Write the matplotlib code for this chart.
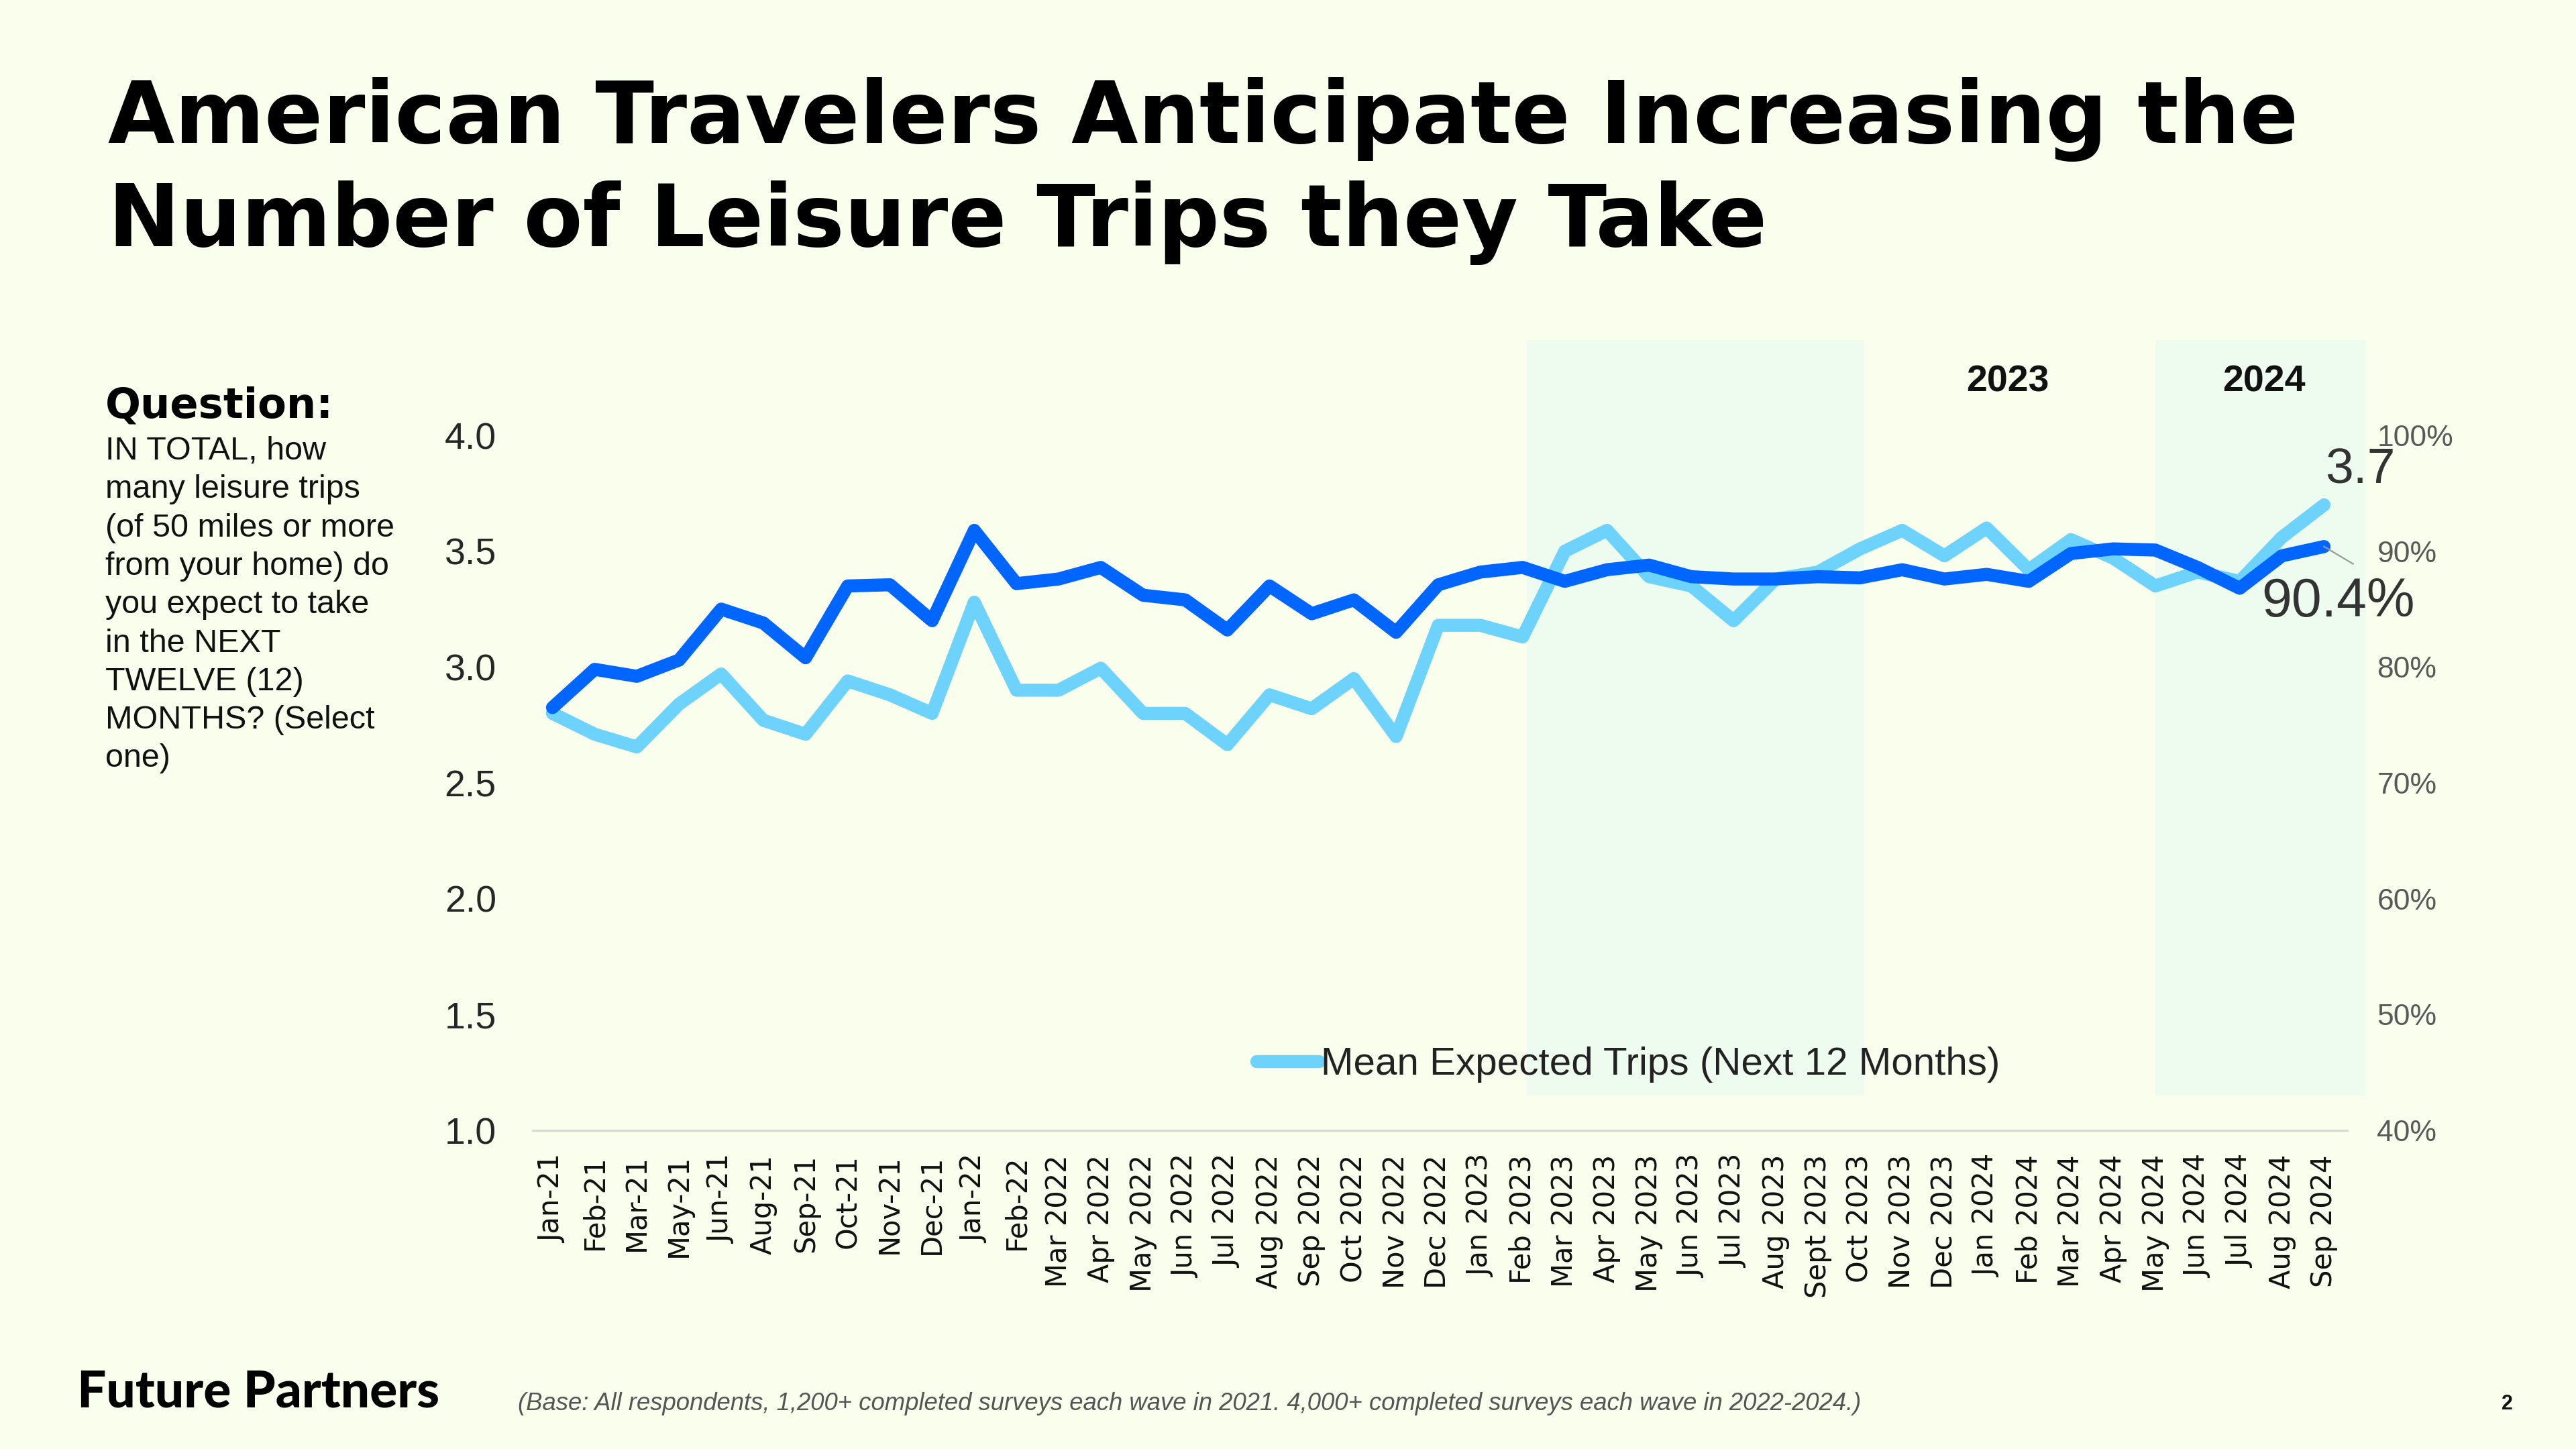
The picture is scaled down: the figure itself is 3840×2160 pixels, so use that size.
import matplotlib
matplotlib.use("Agg")
import matplotlib.pyplot as plt
from matplotlib.ticker import FixedLocator, FuncFormatter

# ---------------- data ----------------
months = ["Jan-21", "Feb-21", "Mar-21", "May-21", "Jun-21", "Aug-21", "Sep-21", "Oct-21",
          "Nov-21", "Dec-21", "Jan-22", "Feb-22", "Mar 2022", "Apr 2022", "May 2022",
          "Jun 2022", "Jul 2022", "Aug 2022", "Sep 2022", "Oct 2022", "Nov 2022",
          "Dec 2022", "Jan 2023", "Feb 2023", "Mar 2023", "Apr 2023", "May 2023",
          "Jun 2023", "Jul 2023", "Aug 2023", "Sept 2023", "Oct 2023", "Nov 2023",
          "Dec 2023", "Jan 2024", "Feb 2024", "Mar 2024", "Apr 2024", "May 2024",
          "Jun 2024", "Jul 2024", "Aug 2024", "Sep 2024"]

mean_trips = [2.80, 2.71, 2.655, 2.84, 2.97, 2.77, 2.71, 2.94, 2.88, 2.80,
              3.28, 2.90, 2.90, 2.995, 2.80, 2.80, 2.665, 2.88, 2.82, 2.95,
              2.70, 3.18, 3.18, 3.13, 3.50, 3.59, 3.39, 3.35, 3.20, 3.38,
              3.41, 3.51, 3.59, 3.48, 3.60, 3.42, 3.55, 3.47, 3.35, 3.41,
              3.37, 3.56, 3.70]

pct_series = [76.5, 79.8, 79.2, 80.6, 85.0, 83.8, 80.8, 87.0, 87.1, 84.0,
              91.8, 87.2, 87.6, 88.6, 86.2, 85.8, 83.2, 87.0, 84.6, 85.8,
              83.0, 87.1, 88.2, 88.6, 87.4, 88.4, 88.8, 87.8, 87.6, 87.6,
              87.8, 87.7, 88.4, 87.6, 88.0, 87.4, 89.8, 90.2, 90.1, 88.6,
              86.8, 89.6, 90.4]

left_ticks = [1.0, 1.5, 2.0, 2.5, 3.0, 3.5, 4.0]
right_ticks = [40, 50, 60, 70, 80, 90, 100]
year_labels = ["2023", "2024"]
band_spans = [(23.1, 31.1), (38.0, 43.0)]

title_lines = ["American Travelers Anticipate Increasing the",
               "Number of Leisure Trips they Take"]
question_head = "Question:"
question_lines = ["IN TOTAL, how", "many leisure trips", "(of 50 miles or more",
                  "from your home) do", "you expect to take", "in the NEXT",
                  "TWELVE (12)", "MONTHS? (Select", "one)"]
legend_label = "Mean Expected Trips (Next 12 Months)"
base_note = ("(Base: All respondents, 1,200+ completed surveys each wave in 2021. "
             "4,000+ completed surveys each wave in 2022-2024.)")
brand = "Future Partners"
page_no = "2"

# ---------------- style ----------------
BG = "#FAFEEC"
BAND = "#EDFCEE"
DARK = "#0066FF"
LIGHT = "#6DD3FD"
W, H = 3840, 2160

def fx(x):
    return x / W

def fy(y):
    return 1 - y / H

fig = plt.figure(figsize=(38.4, 21.6), dpi=100, facecolor=BG)

ax_l, ax_r, ax_b, ax_t = 794, 3499, 1685, 649
ax = fig.add_axes([fx(ax_l), fy(ax_b), fx(ax_r) - fx(ax_l), fy(ax_t) - fy(ax_b)])
ax.set_facecolor("none")
x = list(range(len(months)))
ax.set_xlim(-0.47, len(months) - 1 + 0.55)
ax.set_ylim(1.0, 4.0)

for s in ax.spines.values():
    s.set_visible(False)

# highlighted bands
for (a, b) in band_spans:
    r = ax.axvspan(a, b, ymin=0.05, ymax=1.137, color=BAND, lw=0, zorder=0)
    r.set_clip_on(False)

ax.axhline(1.0, color="#D9D9D2", lw=2.2, zorder=1, clip_on=False)

light_line, = ax.plot(x, mean_trips, color=LIGHT, lw=14, solid_capstyle="round",
                      solid_joinstyle="round", zorder=3, label=legend_label)

ax.yaxis.set_major_locator(FixedLocator(left_ticks))
ax.yaxis.set_major_formatter(FuncFormatter(lambda v, p: f"{v:.1f}"))
ax.tick_params(axis="y", length=0, pad=39, labelsize=40, labelcolor="#262626")
for t in ax.get_yticklabels():
    t.set_fontfamily("Liberation Sans")

ax.set_xticks(x)
ax.set_xticklabels(months, rotation=90, fontsize=30, fontfamily="DejaVu Sans",
                   color="#111111")
ax.tick_params(axis="x", length=0, pad=26)

ax2 = ax.twinx()
ax2.set_ylim(40, 100)
for s in ax2.spines.values():
    s.set_visible(False)
ax2.plot(x, pct_series, color=DARK, lw=14, solid_capstyle="round",
         solid_joinstyle="round", zorder=4)
ax2.yaxis.set_major_locator(FixedLocator(right_ticks))
ax2.yaxis.set_major_formatter(FuncFormatter(lambda v, p: f"{int(v)}%"))
ax2.tick_params(axis="y", length=0, pad=32, labelsize=32, labelcolor="#595959")
for t in ax2.get_yticklabels():
    t.set_fontfamily("Liberation Sans")

# end labels
n = len(months) - 1
ax2.text(n + 0.85, mean_trips[-1] + 0.15, f"{mean_trips[-1]:.1f}", transform=ax.transData,
         ha="center", va="center", fontsize=54, color="#333333",
         fontfamily="Liberation Sans", zorder=6)
ax2.text(n + 0.34, pct_series[-1] - 4.8, f"{pct_series[-1]:.1f}%",
         ha="center", va="center", fontsize=58, color="#333333",
         fontfamily="Liberation Sans", zorder=6)
ax2.plot([n, n + 0.69], [pct_series[-1], pct_series[-1] - 1.5], color="#9A9A9A",
         lw=1.6, zorder=5, clip_on=False)

# year labels above bands
year_x = [2993, 3375]
for lbl, xx in zip(year_labels, year_x):
    fig.text(fx(xx), fy(570), lbl, ha="center", va="center", fontsize=40,
             fontweight="bold", fontfamily="Liberation Sans", color="#111111")

# legend
leg = ax.legend(handles=[light_line], loc="center left",
                bbox_to_anchor=(fx(1873), fy(1587)), bbox_transform=fig.transFigure,
                frameon=False, handlelength=1.6, handletextpad=0.05,
                borderpad=0, borderaxespad=0,
                prop={"family": "Liberation Sans", "size": 42})
for t in leg.get_texts():
    t.set_color("#222222")

# ---------------- texts ----------------
TITLE_FONT = ["DejaVu Sans"]
HEAVY = ["Lato", "DejaVu Sans"]
t1 = fig.text(fx(161), fy(213), title_lines[0], ha="left", va="baseline",
              fontsize=92, fontweight="bold", fontfamily=TITLE_FONT, color="#000000")
t2 = fig.text(fx(161), fy(367), title_lines[1], ha="left", va="baseline",
              fontsize=92, fontweight="bold", fontfamily=TITLE_FONT, color="#000000")

q = fig.text(fx(157), fy(623), question_head, ha="left", va="baseline",
             fontsize=42, fontweight="bold", fontfamily=TITLE_FONT, color="#000000")
qlines = []
for i, line in enumerate(question_lines):
    qlines.append(fig.text(fx(157), fy(685 + i * 57.3), line, ha="left", va="baseline",
                           fontsize=31, fontfamily="Liberation Sans", color="#111111"))

br = fig.text(fx(115), fy(2098), brand, ha="left", va="baseline", fontsize=50,
              fontweight="black", fontfamily=HEAVY, color="#000000")
bn = fig.text(fx(772), fy(2092), base_note, ha="left", va="center", fontsize=24,
              style="italic", fontfamily="Liberation Sans", color="#555555")
fig.text(fx(3737), fy(2093), page_no, ha="center", va="center", fontsize=22,
         fontweight="bold", fontfamily="Liberation Sans", color="#111111")

# fit widths to reference
fig.canvas.draw()
rend = fig.canvas.get_renderer()

def fit(t, target):
    w = t.get_window_extent(rend).width
    t.set_fontsize(t.get_fontsize() * target / w)

fit(t1, 3263)
t2.set_fontsize(t1.get_fontsize())
fit(q, 340)
fit(qlines[2], 431)
for t in qlines:
    t.set_fontsize(qlines[2].get_fontsize())
fit(br, 540)
fit(bn, 2010)

fig.savefig("out.png", dpi=100, facecolor=BG)
